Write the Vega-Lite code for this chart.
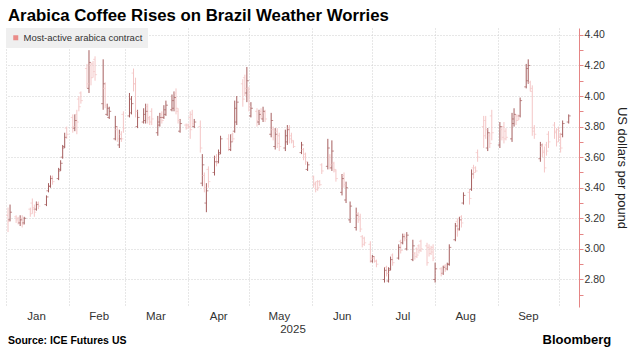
{
  "$schema": "https://vega.github.io/schema/vega-lite/v6.json",
  "width": 573,
  "height": 279,
  "autosize": {"type": "none"},
  "padding": {"left": 6, "top": 28, "right": 51, "bottom": 48},
  "background": "white",
  "config": {"view": {"stroke": null}, "font": "Liberation Sans"},
  "title": {"text": "Arabica Coffee Rises on Brazil Weather Worries", "anchor": "start", "frame": "group", "offset": 3, "font": "Liberation Sans", "fontSize": 16.8, "fontWeight": "bold", "color": "#000000", "dx": 2},
  "data": {"values": [
    {"t":"2025-01-02","o":3.22,"h":3.27,"l":3.11,"c":3.18},
    {"t":"2025-01-03","o":3.19,"h":3.29,"l":3.18,"c":3.24},
    {"t":"2025-01-06","o":3.21,"h":3.22,"l":3.17,"c":3.19},
    {"t":"2025-01-07","o":3.20,"h":3.21,"l":3.16,"c":3.18},
    {"t":"2025-01-08","o":3.17,"h":3.22,"l":3.15,"c":3.19},
    {"t":"2025-01-09","o":3.20,"h":3.22,"l":3.14,"c":3.16},
    {"t":"2025-01-10","o":3.17,"h":3.21,"l":3.16,"c":3.20},
    {"t":"2025-01-13","o":3.26,"h":3.27,"l":3.21,"c":3.23},
    {"t":"2025-01-14","o":3.30,"h":3.33,"l":3.23,"c":3.26},
    {"t":"2025-01-15","o":3.27,"h":3.29,"l":3.21,"c":3.24},
    {"t":"2025-01-16","o":3.26,"h":3.31,"l":3.25,"c":3.29},
    {"t":"2025-01-17","o":3.30,"h":3.31,"l":3.26,"c":3.28},
    {"t":"2025-01-21","o":3.29,"h":3.35,"l":3.28,"c":3.34},
    {"t":"2025-01-22","o":3.38,"h":3.43,"l":3.37,"c":3.41},
    {"t":"2025-01-23","o":3.41,"h":3.48,"l":3.40,"c":3.46},
    {"t":"2025-01-24","o":3.47,"h":3.48,"l":3.42,"c":3.44},
    {"t":"2025-01-27","o":3.46,"h":3.53,"l":3.45,"c":3.51},
    {"t":"2025-01-28","o":3.52,"h":3.58,"l":3.51,"c":3.56},
    {"t":"2025-01-29","o":3.60,"h":3.68,"l":3.59,"c":3.66},
    {"t":"2025-01-30","o":3.67,"h":3.76,"l":3.66,"c":3.73},
    {"t":"2025-01-31","o":3.79,"h":3.80,"l":3.72,"c":3.75},
    {"t":"2025-02-03","o":3.86,"h":3.88,"l":3.76,"c":3.80},
    {"t":"2025-02-04","o":3.79,"h":3.88,"l":3.77,"c":3.84},
    {"t":"2025-02-05","o":3.88,"h":3.91,"l":3.75,"c":3.83},
    {"t":"2025-02-06","o":3.98,"h":4.00,"l":3.90,"c":3.93},
    {"t":"2025-02-07","o":4.02,"h":4.03,"l":3.95,"c":3.97},
    {"t":"2025-02-10","o":4.18,"h":4.21,"l":4.05,"c":4.08},
    {"t":"2025-02-11","o":4.05,"h":4.30,"l":4.02,"c":4.22},
    {"t":"2025-02-12","o":4.20,"h":4.22,"l":4.07,"c":4.12},
    {"t":"2025-02-13","o":4.21,"h":4.23,"l":4.12,"c":4.16},
    {"t":"2025-02-14","o":4.24,"h":4.26,"l":4.10,"c":4.14},
    {"t":"2025-02-18","o":3.95,"h":4.24,"l":3.91,"c":4.08},
    {"t":"2025-02-19","o":4.05,"h":4.09,"l":3.92,"c":3.94},
    {"t":"2025-02-20","o":3.88,"h":3.95,"l":3.87,"c":3.92},
    {"t":"2025-02-21","o":3.86,"h":3.93,"l":3.85,"c":3.90},
    {"t":"2025-02-24","o":3.72,"h":3.87,"l":3.71,"c":3.80},
    {"t":"2025-02-25","o":3.78,"h":3.80,"l":3.70,"c":3.72},
    {"t":"2025-02-26","o":3.68,"h":3.78,"l":3.66,"c":3.72},
    {"t":"2025-02-27","o":3.75,"h":3.77,"l":3.70,"c":3.72},
    {"t":"2025-02-28","o":3.88,"h":3.90,"l":3.76,"c":3.79},
    {"t":"2025-03-03","o":3.87,"h":4.02,"l":3.86,"c":3.98},
    {"t":"2025-03-04","o":3.89,"h":4.00,"l":3.88,"c":3.95},
    {"t":"2025-03-05","o":4.15,"h":4.18,"l":4.03,"c":4.08},
    {"t":"2025-03-06","o":4.08,"h":4.12,"l":3.86,"c":3.90},
    {"t":"2025-03-07","o":3.80,"h":3.91,"l":3.79,"c":3.86},
    {"t":"2025-03-10","o":3.83,"h":3.92,"l":3.82,"c":3.88},
    {"t":"2025-03-11","o":3.84,"h":3.95,"l":3.82,"c":3.90},
    {"t":"2025-03-12","o":3.93,"h":3.95,"l":3.82,"c":3.85},
    {"t":"2025-03-13","o":3.86,"h":3.87,"l":3.81,"c":3.83},
    {"t":"2025-03-14","o":3.90,"h":3.92,"l":3.81,"c":3.85},
    {"t":"2025-03-17","o":3.76,"h":3.87,"l":3.74,"c":3.83},
    {"t":"2025-03-18","o":3.81,"h":3.89,"l":3.80,"c":3.86},
    {"t":"2025-03-19","o":3.88,"h":3.90,"l":3.82,"c":3.84},
    {"t":"2025-03-20","o":3.86,"h":3.94,"l":3.85,"c":3.91},
    {"t":"2025-03-21","o":3.88,"h":3.97,"l":3.87,"c":3.94},
    {"t":"2025-03-24","o":3.91,"h":4.01,"l":3.90,"c":3.97},
    {"t":"2025-03-25","o":3.92,"h":4.03,"l":3.90,"c":3.99},
    {"t":"2025-03-26","o":4.02,"h":4.05,"l":3.88,"c":3.92},
    {"t":"2025-03-27","o":3.90,"h":3.92,"l":3.82,"c":3.84},
    {"t":"2025-03-28","o":3.77,"h":3.85,"l":3.76,"c":3.82},
    {"t":"2025-03-31","o":3.81,"h":3.82,"l":3.78,"c":3.79},
    {"t":"2025-04-01","o":3.81,"h":3.82,"l":3.79,"c":3.80},
    {"t":"2025-04-02","o":3.86,"h":3.90,"l":3.72,"c":3.78},
    {"t":"2025-04-03","o":3.88,"h":3.91,"l":3.80,"c":3.82},
    {"t":"2025-04-04","o":3.80,"h":3.85,"l":3.79,"c":3.83},
    {"t":"2025-04-07","o":3.80,"h":3.84,"l":3.63,"c":3.66},
    {"t":"2025-04-08","o":3.43,"h":3.62,"l":3.41,"c":3.55},
    {"t":"2025-04-09","o":3.48,"h":3.50,"l":3.37,"c":3.40},
    {"t":"2025-04-10","o":3.30,"h":3.43,"l":3.24,"c":3.38},
    {"t":"2025-04-11","o":3.52,"h":3.54,"l":3.40,"c":3.44},
    {"t":"2025-04-14","o":3.50,"h":3.61,"l":3.48,"c":3.57},
    {"t":"2025-04-15","o":3.60,"h":3.62,"l":3.54,"c":3.56},
    {"t":"2025-04-16","o":3.57,"h":3.65,"l":3.56,"c":3.62},
    {"t":"2025-04-17","o":3.63,"h":3.74,"l":3.62,"c":3.72},
    {"t":"2025-04-21","o":3.72,"h":3.75,"l":3.64,"c":3.66},
    {"t":"2025-04-22","o":3.65,"h":3.75,"l":3.64,"c":3.70},
    {"t":"2025-04-23","o":3.75,"h":3.76,"l":3.70,"c":3.72},
    {"t":"2025-04-24","o":3.77,"h":3.97,"l":3.76,"c":3.92},
    {"t":"2025-04-25","o":3.83,"h":4.00,"l":3.81,"c":3.96},
    {"t":"2025-04-28","o":4.08,"h":4.11,"l":3.93,"c":3.98},
    {"t":"2025-04-29","o":4.12,"h":4.14,"l":4.00,"c":4.05},
    {"t":"2025-04-30","o":4.02,"h":4.19,"l":3.96,"c":4.10},
    {"t":"2025-05-01","o":4.04,"h":4.06,"l":3.90,"c":3.93},
    {"t":"2025-05-02","o":3.87,"h":3.96,"l":3.86,"c":3.92},
    {"t":"2025-05-05","o":3.90,"h":3.92,"l":3.80,"c":3.84},
    {"t":"2025-05-06","o":3.83,"h":3.91,"l":3.81,"c":3.88},
    {"t":"2025-05-07","o":3.90,"h":3.92,"l":3.85,"c":3.87},
    {"t":"2025-05-08","o":3.85,"h":3.93,"l":3.83,"c":3.90},
    {"t":"2025-05-09","o":3.89,"h":3.91,"l":3.83,"c":3.85},
    {"t":"2025-05-12","o":3.75,"h":3.89,"l":3.73,"c":3.84},
    {"t":"2025-05-13","o":3.78,"h":3.80,"l":3.71,"c":3.73},
    {"t":"2025-05-14","o":3.67,"h":3.79,"l":3.65,"c":3.75},
    {"t":"2025-05-15","o":3.77,"h":3.79,"l":3.66,"c":3.69},
    {"t":"2025-05-16","o":3.74,"h":3.76,"l":3.64,"c":3.67},
    {"t":"2025-05-19","o":3.66,"h":3.78,"l":3.64,"c":3.74},
    {"t":"2025-05-20","o":3.70,"h":3.81,"l":3.68,"c":3.78},
    {"t":"2025-05-21","o":3.79,"h":3.81,"l":3.69,"c":3.72},
    {"t":"2025-05-22","o":3.74,"h":3.76,"l":3.69,"c":3.71},
    {"t":"2025-05-23","o":3.70,"h":3.71,"l":3.66,"c":3.67},
    {"t":"2025-05-27","o":3.63,"h":3.70,"l":3.62,"c":3.68},
    {"t":"2025-05-28","o":3.65,"h":3.66,"l":3.58,"c":3.60},
    {"t":"2025-05-29","o":3.62,"h":3.63,"l":3.55,"c":3.57},
    {"t":"2025-05-30","o":3.52,"h":3.57,"l":3.51,"c":3.55},
    {"t":"2025-06-02","o":3.47,"h":3.48,"l":3.40,"c":3.42},
    {"t":"2025-06-03","o":3.43,"h":3.44,"l":3.37,"c":3.39},
    {"t":"2025-06-04","o":3.44,"h":3.45,"l":3.38,"c":3.40},
    {"t":"2025-06-05","o":3.44,"h":3.45,"l":3.41,"c":3.42},
    {"t":"2025-06-06","o":3.55,"h":3.56,"l":3.49,"c":3.51},
    {"t":"2025-06-09","o":3.54,"h":3.72,"l":3.52,"c":3.66},
    {"t":"2025-06-10","o":3.60,"h":3.62,"l":3.52,"c":3.55},
    {"t":"2025-06-11","o":3.53,"h":3.71,"l":3.51,"c":3.64},
    {"t":"2025-06-12","o":3.56,"h":3.57,"l":3.50,"c":3.52},
    {"t":"2025-06-13","o":3.51,"h":3.52,"l":3.44,"c":3.46},
    {"t":"2025-06-16","o":3.37,"h":3.49,"l":3.35,"c":3.46},
    {"t":"2025-06-17","o":3.48,"h":3.50,"l":3.40,"c":3.42},
    {"t":"2025-06-18","o":3.32,"h":3.44,"l":3.30,"c":3.40},
    {"t":"2025-06-20","o":3.19,"h":3.31,"l":3.17,"c":3.28},
    {"t":"2025-06-23","o":3.14,"h":3.27,"l":3.12,"c":3.22},
    {"t":"2025-06-24","o":3.23,"h":3.24,"l":3.17,"c":3.19},
    {"t":"2025-06-25","o":3.21,"h":3.23,"l":3.11,"c":3.13},
    {"t":"2025-06-26","o":3.08,"h":3.09,"l":3.01,"c":3.03},
    {"t":"2025-06-27","o":3.07,"h":3.08,"l":3.02,"c":3.04},
    {"t":"2025-06-30","o":3.03,"h":3.05,"l":2.91,"c":2.94},
    {"t":"2025-07-01","o":2.92,"h":2.96,"l":2.91,"c":2.95},
    {"t":"2025-07-02","o":2.94,"h":2.95,"l":2.91,"c":2.92},
    {"t":"2025-07-03","o":2.92,"h":2.93,"l":2.88,"c":2.90},
    {"t":"2025-07-07","o":2.80,"h":2.88,"l":2.78,"c":2.86},
    {"t":"2025-07-08","o":2.88,"h":2.89,"l":2.82,"c":2.84},
    {"t":"2025-07-09","o":2.79,"h":2.88,"l":2.78,"c":2.86},
    {"t":"2025-07-10","o":2.87,"h":2.95,"l":2.86,"c":2.93},
    {"t":"2025-07-11","o":2.96,"h":2.97,"l":2.89,"c":2.91},
    {"t":"2025-07-14","o":2.94,"h":3.03,"l":2.93,"c":3.01},
    {"t":"2025-07-15","o":3.05,"h":3.06,"l":2.97,"c":2.99},
    {"t":"2025-07-16","o":3.04,"h":3.10,"l":3.03,"c":3.08},
    {"t":"2025-07-17","o":3.09,"h":3.10,"l":3.05,"c":3.07},
    {"t":"2025-07-18","o":3.00,"h":3.11,"l":2.99,"c":3.09},
    {"t":"2025-07-21","o":2.93,"h":3.06,"l":2.92,"c":3.02},
    {"t":"2025-07-22","o":2.97,"h":2.98,"l":2.93,"c":2.95},
    {"t":"2025-07-23","o":3.00,"h":3.01,"l":2.94,"c":2.96},
    {"t":"2025-07-24","o":3.02,"h":3.03,"l":2.97,"c":2.99},
    {"t":"2025-07-25","o":3.05,"h":3.06,"l":2.98,"c":3.00},
    {"t":"2025-07-28","o":3.02,"h":3.04,"l":2.89,"c":2.91},
    {"t":"2025-07-29","o":3.01,"h":3.03,"l":2.95,"c":2.97},
    {"t":"2025-07-30","o":3.00,"h":3.02,"l":2.96,"c":2.98},
    {"t":"2025-07-31","o":3.01,"h":3.03,"l":2.92,"c":2.94},
    {"t":"2025-08-01","o":2.80,"h":2.91,"l":2.78,"c":2.87},
    {"t":"2025-08-04","o":2.87,"h":2.88,"l":2.82,"c":2.84},
    {"t":"2025-08-05","o":2.84,"h":2.89,"l":2.83,"c":2.88},
    {"t":"2025-08-06","o":2.89,"h":2.90,"l":2.85,"c":2.87},
    {"t":"2025-08-07","o":2.87,"h":2.91,"l":2.86,"c":2.90},
    {"t":"2025-08-08","o":2.90,"h":3.03,"l":2.89,"c":3.01},
    {"t":"2025-08-11","o":3.06,"h":3.17,"l":3.05,"c":3.15},
    {"t":"2025-08-12","o":3.18,"h":3.20,"l":3.08,"c":3.12},
    {"t":"2025-08-13","o":3.13,"h":3.21,"l":3.12,"c":3.19},
    {"t":"2025-08-14","o":3.21,"h":3.22,"l":3.14,"c":3.17},
    {"t":"2025-08-15","o":3.30,"h":3.37,"l":3.29,"c":3.35},
    {"t":"2025-08-18","o":3.37,"h":3.39,"l":3.29,"c":3.33},
    {"t":"2025-08-19","o":3.39,"h":3.52,"l":3.38,"c":3.49},
    {"t":"2025-08-20","o":3.53,"h":3.55,"l":3.46,"c":3.50},
    {"t":"2025-08-21","o":3.53,"h":3.54,"l":3.50,"c":3.51},
    {"t":"2025-08-22","o":3.63,"h":3.65,"l":3.57,"c":3.60},
    {"t":"2025-08-25","o":3.80,"h":3.87,"l":3.66,"c":3.74},
    {"t":"2025-08-26","o":3.84,"h":3.87,"l":3.72,"c":3.78},
    {"t":"2025-08-27","o":3.66,"h":3.79,"l":3.64,"c":3.76},
    {"t":"2025-08-28","o":3.74,"h":3.76,"l":3.66,"c":3.69},
    {"t":"2025-08-29","o":3.87,"h":3.91,"l":3.71,"c":3.76},
    {"t":"2025-09-02","o":3.68,"h":3.83,"l":3.66,"c":3.80},
    {"t":"2025-09-03","o":3.78,"h":3.80,"l":3.71,"c":3.73},
    {"t":"2025-09-04","o":3.80,"h":3.83,"l":3.69,"c":3.72},
    {"t":"2025-09-05","o":3.77,"h":3.79,"l":3.71,"c":3.73},
    {"t":"2025-09-08","o":3.72,"h":3.89,"l":3.70,"c":3.85},
    {"t":"2025-09-09","o":3.82,"h":3.92,"l":3.80,"c":3.88},
    {"t":"2025-09-10","o":3.87,"h":3.88,"l":3.81,"c":3.84},
    {"t":"2025-09-11","o":3.87,"h":3.88,"l":3.84,"c":3.85},
    {"t":"2025-09-12","o":3.87,"h":3.99,"l":3.86,"c":3.97},
    {"t":"2025-09-15","o":4.06,"h":4.21,"l":4.05,"c":4.18},
    {"t":"2025-09-16","o":4.10,"h":4.24,"l":4.08,"c":4.20},
    {"t":"2025-09-17","o":4.09,"h":4.10,"l":4.03,"c":4.05},
    {"t":"2025-09-18","o":4.03,"h":4.07,"l":3.74,"c":3.77},
    {"t":"2025-09-19","o":3.79,"h":3.81,"l":3.72,"c":3.75},
    {"t":"2025-09-22","o":3.59,"h":3.70,"l":3.57,"c":3.68},
    {"t":"2025-09-23","o":3.67,"h":3.69,"l":3.60,"c":3.63},
    {"t":"2025-09-24","o":3.64,"h":3.67,"l":3.50,"c":3.53},
    {"t":"2025-09-25","o":3.68,"h":3.70,"l":3.61,"c":3.64},
    {"t":"2025-09-26","o":3.75,"h":3.77,"l":3.66,"c":3.70},
    {"t":"2025-09-29","o":3.81,"h":3.83,"l":3.72,"c":3.76},
    {"t":"2025-09-30","o":3.77,"h":3.79,"l":3.67,"c":3.70},
    {"t":"2025-10-01","o":3.78,"h":3.80,"l":3.70,"c":3.73},
    {"t":"2025-10-02","o":3.74,"h":3.76,"l":3.63,"c":3.66},
    {"t":"2025-10-03","o":3.75,"h":3.84,"l":3.73,"c":3.82},
    {"t":"2025-10-06","o":3.83,"h":3.88,"l":3.82,"c":3.87}
  ]},
  "layer": [
    {
      "mark": {"type": "rule", "strokeWidth": 1},
      "encoding": {
        "x": {
          "field": "t", "type": "temporal",
          "scale": {"type": "utc", "domain": [{"year": 2025, "month": 1, "date": 1, "utc": true}, {"year": 2025, "month": 10, "date": 11, "hours": 2, "utc": true}]},
          "axis": {
            "values": [
              {"year": 2025, "month": 1, "date": 1, "utc": true},
              {"year": 2025, "month": 2, "date": 1, "utc": true},
              {"year": 2025, "month": 3, "date": 1, "utc": true},
              {"year": 2025, "month": 4, "date": 1, "utc": true},
              {"year": 2025, "month": 5, "date": 1, "utc": true},
              {"year": 2025, "month": 6, "date": 1, "utc": true},
              {"year": 2025, "month": 7, "date": 1, "utc": true},
              {"year": 2025, "month": 8, "date": 1, "utc": true},
              {"year": 2025, "month": 9, "date": 1, "utc": true},
              {"year": 2025, "month": 10, "date": 1, "utc": true}
            ],
            "tickCount": 40,
            "labelExpr": "utcmonth(datum.value) == 9 ? '' : utcFormat(datum.value, '%b')",
            "labelAlign": "center", "labelOffset": 30, "labelFlush": false, "labelOverlap": false, "labelBound": false,
            "ticks": false, "domain": false,
            "grid": true, "gridColor": "#cfcfcf", "gridDash": [1, 2],
            "labelFontSize": 11.5, "labelColor": "#333333", "labelPadding": 3,
            "title": "2025", "titleFontSize": 11.5, "titleFontWeight": "normal", "titleColor": "#333333", "titlePadding": 2
          }
        },
        "y": {
          "field": "l", "type": "quantitative",
          "scale": {"domain": [2.62, 4.445], "nice": false, "zero": false},
          "axis": {
            "orient": "right",
            "values": [2.7, 2.8, 2.9, 3.0, 3.1, 3.2, 3.3, 3.4, 3.5, 3.6, 3.7, 3.8, 3.9, 4.0, 4.1, 4.2, 4.3, 4.4],
            "tickCount": 40,
            "labelExpr": "round(datum.value * 10) % 2 == 0 ? format(datum.value, '.2f') : ''",
            "labelOverlap": false, "labelFlush": false, "labelBound": false,
            "grid": true, "gridDash": [1, 2],
            "gridColor": {"condition": {"test": "round(datum.value * 10) % 2 == 0", "value": "#cfcfcf"}, "value": "rgba(255,255,255,0)"},
            "domainColor": "#e58585", "tickColor": "#e58585", "tickSize": 4,
            "labelFontSize": 10.5, "labelColor": "#333333", "labelPadding": 1,
            "title": "US dollars per pound", "titleAngle": 90, "titleFontSize": 13, "titleFontWeight": "normal", "titleColor": "#222222", "titlePadding": 10
          }
        },
        "y2": {"field": "h"},
        "color": {"condition": {"test": "datum.c > datum.o", "value": "#a65f5f"}, "value": "#f4c6c6"}
      }
    },
    {
      "mark": {"type": "tick", "orient": "horizontal", "size": 2, "thickness": 1, "xOffset": -1},
      "encoding": {
        "x": {"field": "t", "type": "temporal"},
        "y": {"field": "o", "type": "quantitative"},
        "color": {"condition": {"test": "datum.c > datum.o", "value": "#a65f5f"}, "value": "#f4c6c6"}
      }
    },
    {
      "mark": {"type": "tick", "orient": "horizontal", "size": 2, "thickness": 1, "xOffset": 1},
      "encoding": {
        "x": {"field": "t", "type": "temporal"},
        "y": {"field": "c", "type": "quantitative"},
        "color": {"condition": {"test": "datum.c > datum.o", "value": "#a65f5f"}, "value": "#f4c6c6"}
      }
    },
    {
      "data": {"values": []},
      "mark": {"type": "point", "filled": true, "shape": "square"},
      "encoding": {
        "color": {
          "datum": "Most-active arabica contract",
          "scale": {"range": ["#e8625e"]},
          "legend": {"orient": "top-left", "offset": 0, "title": null, "symbolType": "square", "symbolSize": 25, "symbolStrokeWidth": 0, "labelFontSize": 9.5, "labelColor": "#333333", "fillColor": "#efefef", "padding": 5, "labelOffset": 3}
        }
      }
    },
    {
      "data": {"values": [{"note": "Source: ICE Futures US"}]},
      "mark": {"type": "text", "align": "left", "baseline": "alphabetic", "fontWeight": "bold", "fontSize": 10.5, "color": "#000000"},
      "encoding": {
        "x": {"datum": {"year": 2025, "month": 1, "date": 2, "utc": true}, "type": "temporal"},
        "y": {"datum": 2.378, "type": "quantitative"},
        "text": {"field": "note"}
      }
    },
    {
      "data": {"values": [{"note": "Bloomberg"}]},
      "mark": {"type": "text", "align": "right", "baseline": "alphabetic", "fontWeight": "bold", "fontSize": 13, "color": "#000000"},
      "encoding": {
        "x": {"datum": {"year": 2025, "month": 10, "date": 27, "utc": true}, "type": "temporal"},
        "y": {"datum": 2.375, "type": "quantitative"},
        "text": {"field": "note"}
      }
    }
  ]
}
